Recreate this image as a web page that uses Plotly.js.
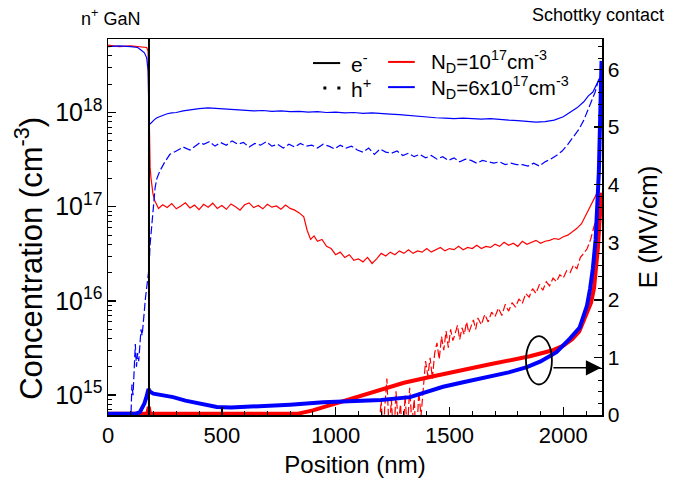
<!DOCTYPE html>
<html><head><meta charset="utf-8">
<script src="https://cdn.plot.ly/plotly-3.0.1.min.js"></script>
<style>html,body{margin:0;padding:0;background:#fff}#chart{width:692px;height:490px}</style>
</head><body><div id="chart"></div>
<script>
// ---- data (position in nm, concentration in cm^-3, field in MV/cm) ----
const interfacePos = [180];

// N_D = 1e17 : electrons
const red_e_x = [0,50,100,150,170,176,179,182,185,189,193,198,206,214,222,240,260,280,300,320,340,360,380,400,420,440,460,480,500,520,540,560,580,600,620,640,660,680,700,720,740,760,780,800,820,840,860,875,890,905,920,940,960,980,1000,1020,1040,1060,1080,1100,1120,1140,1160,1180,1200,1220,1240,1260,1280,1300,1320,1340,1360,1380,1400,1420,1440,1460,1480,1500,1520,1540,1560,1580,1600,1620,1640,1660,1680,1700,1720,1740,1760,1780,1800,1820,1840,1860,1880,1900,1920,1940,1960,1980,2000,2020,2040,2060,2080,2100,2115,2130,2145,2155,2165];
const red_e_y = [5.2e18,5.0e18,5.1e18,5.0e18,4.9e18,4.5e18,1.5e18,4.5e17,2.6e17,2.0e17,1.6e17,1.35e17,1.15e17,1.05e17,9.6e16,1.05e17,9.8e16,1.08e17,9.5e16,1.02e17,1.1e17,9.7e16,1.04e17,9.3e16,1.06e17,9.9e16,1.09e17,9.6e16,1.03e17,9.4e16,1.07e17,1.0e17,9.2e16,1.05e17,1.1e17,9.8e16,1.03e17,9.5e16,1.06e17,9.9e16,1.02e17,9.4e16,1.04e17,9.6e16,9.2e16,8.6e16,7.8e16,5.6e16,4.5e16,4.9e16,4.3e16,4.5e16,3.8e16,3.6e16,3.1e16,3.3e16,2.9e16,3.1e16,2.7e16,2.8e16,2.6e16,2.9e16,2.5e16,2.8e16,3.2e16,3.0e16,3.3e16,3.1e16,3.4e16,3.2e16,3.5e16,3.2e16,3.4e16,3.3e16,3.6e16,3.3e16,3.5e16,3.7e16,3.4e16,3.6e16,3.5e16,3.8e16,3.5e16,3.7e16,3.6e16,3.9e16,3.6e16,3.8e16,3.7e16,4.0e16,3.8e16,4.2e16,3.9e16,4.1e16,3.8e16,4.3e16,4.0e16,4.2e16,4.4e16,4.1e16,4.3e16,4.4e16,4.6e16,4.5e16,4.8e16,5.0e16,5.4e16,5.9e16,6.6e16,8.2e16,9.8e16,1.15e17,1.35e17,1.25e17,1.1e17];

// N_D = 1e17 : holes
const red_h_x = [1170,1190,1200,1210,1215,1225,1235,1245,1255,1265,1275,1285,1295,1305,1315,1325,1335,1345,1355,1365,1375,1385,1395,1405,1415,1425,1435,1445,1455,1465,1475,1485,1495,1505,1515,1525,1535,1545,1555,1565,1575,1585,1595,1605,1615,1625,1640,1655,1670,1685,1700,1715,1730,1745,1760,1775,1790,1805,1820,1835,1850,1865,1880,1895,1910,1925,1940,1955,1970,1985,2000,2015,2030,2045,2060,2075,2090,2105,2120,2135,2150,2160,2165];
const red_h_y = [3e14,4e14,9e14,3e14,7e14,1.5e15,4e14,9e14,3e14,1.1e15,5e14,8e14,3e14,1.0e15,4e14,1.2e15,5e14,9e14,3e14,1.1e15,6e14,1.3e15,2.3e15,1.6e15,2.5e15,1.5e15,2.8e15,3.6e15,2.4e15,4.2e15,3.0e15,4.8e15,3.2e15,5.0e15,3.8e15,4.5e15,5.5e15,3.9e15,5.2e15,4.4e15,6.0e15,4.6e15,5.4e15,6.3e15,5.0e15,6.6e15,5.6e15,7.2e15,6.0e15,7.6e15,6.8e15,8.4e15,7.0e15,9.2e15,7.8e15,9.6e15,8.6e15,1.05e16,9.4e15,1.2e16,1.1e16,1.35e16,1.2e16,1.5e16,1.3e16,1.6e16,1.45e16,1.75e16,1.6e16,1.9e16,1.75e16,2.1e16,2.0e16,2.4e16,2.2e16,2.9e16,3.2e16,3.6e16,4.5e16,6.0e16,8.5e16,1.1e17,1.3e17];

// N_D = 6e17 : electrons
const blue_e_x = [0,50,100,130,145,160,170,176,179,182,186,190,196,204,215,230,245,260,280,300,330,360,400,440,480,520,560,600,640,680,720,760,800,840,880,920,960,1000,1040,1080,1120,1160,1200,1240,1280,1320,1360,1400,1440,1480,1520,1560,1600,1640,1680,1720,1760,1800,1840,1880,1920,1960,2000,2030,2060,2090,2110,2130,2145,2155,2165];
const blue_e_y = [5.0e18,5.1e18,5.0e18,4.9e18,4.6e18,4.3e18,3.8e18,2.8e18,1.2e18,7.5e17,7.6e17,7.8e17,8.1e17,8.4e17,8.8e17,9.1e17,9.4e17,9.7e17,9.9e17,1.0e18,1.04e18,1.07e18,1.1e18,1.12e18,1.1e18,1.09e18,1.07e18,1.06e18,1.04e18,1.05e18,1.03e18,1.04e18,1.02e18,1.03e18,1.01e18,1.02e18,1.0e18,1.01e18,9.9e17,1.0e18,9.8e17,9.9e17,9.7e17,9.6e17,9.5e17,9.3e17,9.1e17,9.0e17,8.8e17,8.7e17,8.6e17,8.7e17,8.6e17,8.5e17,8.6e17,8.4e17,8.3e17,8.2e17,8.0e17,7.9e17,8.0e17,8.3e17,9.0e17,1.0e18,1.12e18,1.3e18,1.5e18,1.65e18,2.0e18,2.2e18,2.4e18];

// N_D = 6e17 : holes
const blue_h_x = [100,105,110,115,120,125,130,135,140,145,150,155,160,165,170,175,180,185,190,195,200,207,215,228,250,272,300,330,360,404,420,445,470,495,520,545,570,595,620,645,670,695,720,745,770,795,820,845,870,895,920,945,970,995,1020,1045,1070,1095,1120,1145,1170,1195,1220,1245,1270,1295,1320,1345,1370,1395,1420,1445,1470,1495,1520,1545,1570,1595,1620,1645,1670,1695,1720,1745,1770,1795,1820,1845,1870,1895,1920,1945,1970,1995,2020,2045,2070,2090,2110,2125,2140,2152,2165];
const blue_h_y = [5e14,1.3e15,1.0e15,1.8e15,3.5e15,2.0e15,2.8e15,2.3e15,3.5e15,5.0e15,4.3e15,6.5e15,8e15,1.1e16,1.4e16,1.8e16,2.2e16,4e16,5.5e16,7e16,1.1e17,1.6e17,2.0e17,2.4e17,3.0e17,3.6e17,3.9e17,4.3e17,4.0e17,4.8e17,4.6e17,4.9e17,4.4e17,4.8e17,4.5e17,5.0e17,4.6e17,4.8e17,4.3e17,4.7e17,4.5e17,4.9e17,4.4e17,4.6e17,4.2e17,4.6e17,4.3e17,4.7e17,4.4e17,4.5e17,4.2e17,4.6e17,4.4e17,4.1e17,4.5e17,4.2e17,4.4e17,4.0e17,3.8e17,4.2e17,3.6e17,4.1e17,3.8e17,3.7e17,3.9e17,3.5e17,3.7e17,3.4e17,3.6e17,3.3e17,3.5e17,3.2e17,3.4e17,3.1e17,3.3e17,3.0e17,3.2e17,3.1e17,2.9e17,3.1e17,3.0e17,2.9e17,3.0e17,2.8e17,2.9e17,2.8e17,2.8e17,2.7e17,2.9e17,2.7e17,3.0e17,3.2e17,3.5e17,3.9e17,4.6e17,5.5e17,6.7e17,8.3e17,1.1e18,1.35e18,1.65e18,2.1e18,2.5e18];

// Electric field (right axis)
const red_f_x = [0,170,175,179,183,188,200,400,600,830,900,1000,1063,1107,1200,1300,1414,1550,1678,1853,1950,1998,2040,2070,2087,2105,2122,2135,2145,2152,2158,2163,2168];
const red_f_y = [0.02,0.02,0.06,0.14,0.05,0.02,0.02,0.02,0.02,0.02,0.08,0.2,0.28,0.33,0.45,0.56,0.66,0.78,0.88,1.02,1.12,1.2,1.32,1.45,1.6,1.78,1.95,2.2,2.55,2.9,3.3,3.6,3.86];
const blue_f_x = [0,120,140,150,160,168,174,178,181,186,200,240,286,340,400,478,540,655,800,945,1107,1200,1327,1400,1472,1560,1678,1760,1840,1900,1970,2000,2030,2072,2090,2104,2118,2130,2142,2150,2156,2161,2165,2168];
const blue_f_y = [0.02,0.02,0.05,0.12,0.2,0.3,0.4,0.45,0.43,0.4,0.37,0.34,0.31,0.25,0.2,0.14,0.13,0.15,0.18,0.22,0.24,0.26,0.31,0.4,0.49,0.57,0.66,0.74,0.83,0.93,1.09,1.2,1.33,1.52,1.72,1.9,2.2,2.55,3.05,3.6,4.2,5.0,5.7,6.15];

// marked region (ellipse) and arrow to the field axis
const markCenter = [1893, 0.95];
const markHalf = [57, 0.42];
const arrowFrom = [1950, 0.82];
const arrowTo = [2166, 0.82];

const RED = '#ff0000', BLUE = '#0000ff';
const FONT = 'Arial, "Liberation Sans", sans-serif';
const thin = 1.2, dashH = '8px,3px';
const LOG_RANGE = [14.79, 18.78];

// minor tick positions of the log axis (2..9 x each decade)
const minorLogTicks = [];
for (let e = 14; e <= 18; e++) for (let m = 2; m <= 9; m++) minorLogTicks.push(m * Math.pow(10, e));

const traces = [
  {x: red_e_x, y: red_e_y, mode: 'lines', line: {color: RED, width: thin}, yaxis: 'y'},
  {x: red_h_x, y: red_h_y, mode: 'lines', line: {color: RED, width: thin, dash: dashH}, yaxis: 'y'},
  {x: blue_e_x, y: blue_e_y, mode: 'lines', line: {color: BLUE, width: thin}, yaxis: 'y'},
  {x: blue_h_x, y: blue_h_y, mode: 'lines', line: {color: BLUE, width: thin, dash: dashH}, yaxis: 'y'},
  {x: red_f_x, y: red_f_y, mode: 'lines', line: {color: RED, width: 4}, yaxis: 'y2'},
  {x: blue_f_x, y: blue_f_y, mode: 'lines', line: {color: BLUE, width: 4}, yaxis: 'y2'},
  // empty trace that only activates the minor-tick overlay axis
  {x: [null], y: [null], mode: 'lines', yaxis: 'y3', hoverinfo: 'skip'}
];

const axCommon = {
  showgrid: false, zeroline: false, showline: true, linecolor: '#000', linewidth: 1.5,
  ticks: 'inside', ticklen: 8, tickwidth: 1.5, tickcolor: '#000'
};

const layout = {
  width: 692, height: 490,
  margin: {l: 108, r: 90, t: 39, b: 75},
  paper_bgcolor: '#fff', plot_bgcolor: '#fff',
  showlegend: false,
  font: {family: FONT, color: '#000'},
  xaxis: Object.assign({}, axCommon, {
    range: [0, 2170], tick0: 0, dtick: 500, mirror: true,
    minor: {dtick: 100, ticks: 'inside', ticklen: 4, tickcolor: '#000', tickwidth: 1},
    tickfont: {size: 22, family: FONT},
    title: {text: 'Position (nm)', font: {size: 24, family: FONT}, standoff: 9}
  }),
  yaxis: Object.assign({}, axCommon, {
    type: 'log', range: LOG_RANGE, dtick: 1, exponentformat: 'power',
    tickfont: {size: 20, family: FONT}
  }),
  yaxis3: {
    overlaying: 'y', side: 'left', type: 'log', range: LOG_RANGE,
    tickmode: 'array', tickvals: minorLogTicks, showticklabels: false,
    ticks: 'inside', ticklen: 4, tickwidth: 1, tickcolor: '#000',
    showgrid: false, zeroline: false, showline: false
  },
  yaxis2: Object.assign({}, axCommon, {
    overlaying: 'y', side: 'right', range: [0, 6.53], dtick: 1,
    minor: {dtick: 0.2, ticks: 'inside', ticklen: 4, tickcolor: '#000', tickwidth: 1},
    tickfont: {size: 21, family: FONT},
    title: {text: 'E (MV/cm)', font: {size: 26, family: FONT}, standoff: 20}
  }),
  shapes: [
    {type: 'line', xref: 'x', yref: 'paper', x0: interfacePos[0], x1: interfacePos[0], y0: 0, y1: 1, line: {color: '#000', width: 2}},
    {type: 'circle', xref: 'x', yref: 'y2', x0: markCenter[0] - markHalf[0], x1: markCenter[0] + markHalf[0], y0: markCenter[1] - markHalf[1], y1: markCenter[1] + markHalf[1], line: {color: '#000', width: 1.8}},
    // legend samples
    {type: 'line', xref: 'paper', yref: 'paper', x0: 0.415, x1: 0.470, y0: 0.936, y1: 0.936, line: {color: '#000', width: 2}},
    {type: 'line', xref: 'paper', yref: 'paper', x0: 0.436, x1: 0.472, y0: 0.870, y1: 0.870, line: {color: '#000', width: 3, dash: '3px,11px'}},
    {type: 'line', xref: 'paper', yref: 'paper', x0: 0.567, x1: 0.621, y0: 0.939, y1: 0.939, line: {color: RED, width: 2}},
    {type: 'line', xref: 'paper', yref: 'paper', x0: 0.567, x1: 0.621, y0: 0.872, y1: 0.872, line: {color: BLUE, width: 2}}
  ],
  annotations: [
    {xref: 'x', yref: 'y2', axref: 'x', ayref: 'y2', x: arrowTo[0], y: arrowTo[1], ax: arrowFrom[0], ay: arrowFrom[1], text: '', showarrow: true, arrowhead: 2, arrowsize: 1.9, arrowwidth: 1.6, arrowcolor: '#000'},
    {xref: 'paper', yref: 'paper', x: -0.16, y: 0.418, text: 'Concentration (cm<sup>-3</sup>)', textangle: -90, showarrow: false, xanchor: 'center', yanchor: 'middle', font: {size: 31}},
    {xref: 'paper', yref: 'paper', x: 0.006, y: 1.058, text: 'n<sup>+</sup> GaN', showarrow: false, xanchor: 'center', yanchor: 'middle', font: {size: 18}},
    {xref: 'paper', yref: 'paper', x: 0.992, y: 1.064, text: 'Schottky contact', showarrow: false, xanchor: 'center', yanchor: 'middle', font: {size: 18}},
    {xref: 'paper', yref: 'paper', x: 0.488, y: 0.936, text: 'e<sup>-</sup>', showarrow: false, xanchor: 'left', yanchor: 'middle', font: {size: 21}},
    {xref: 'paper', yref: 'paper', x: 0.488, y: 0.870, text: 'h<sup>+</sup>', showarrow: false, xanchor: 'left', yanchor: 'middle', font: {size: 21}},
    {xref: 'paper', yref: 'paper', x: 0.649, y: 0.939, text: 'N<sub>D</sub>=10<sup>17</sup>cm<sup>-3</sup>', showarrow: false, xanchor: 'left', yanchor: 'middle', font: {size: 20.5}},
    {xref: 'paper', yref: 'paper', x: 0.649, y: 0.872, text: 'N<sub>D</sub>=6x10<sup>17</sup>cm<sup>-3</sup>', showarrow: false, xanchor: 'left', yanchor: 'middle', font: {size: 20.5}}
  ]
};

Plotly.newPlot('chart', traces, layout, {displayModeBar: false, staticPlot: true});
</script>
</body></html>
